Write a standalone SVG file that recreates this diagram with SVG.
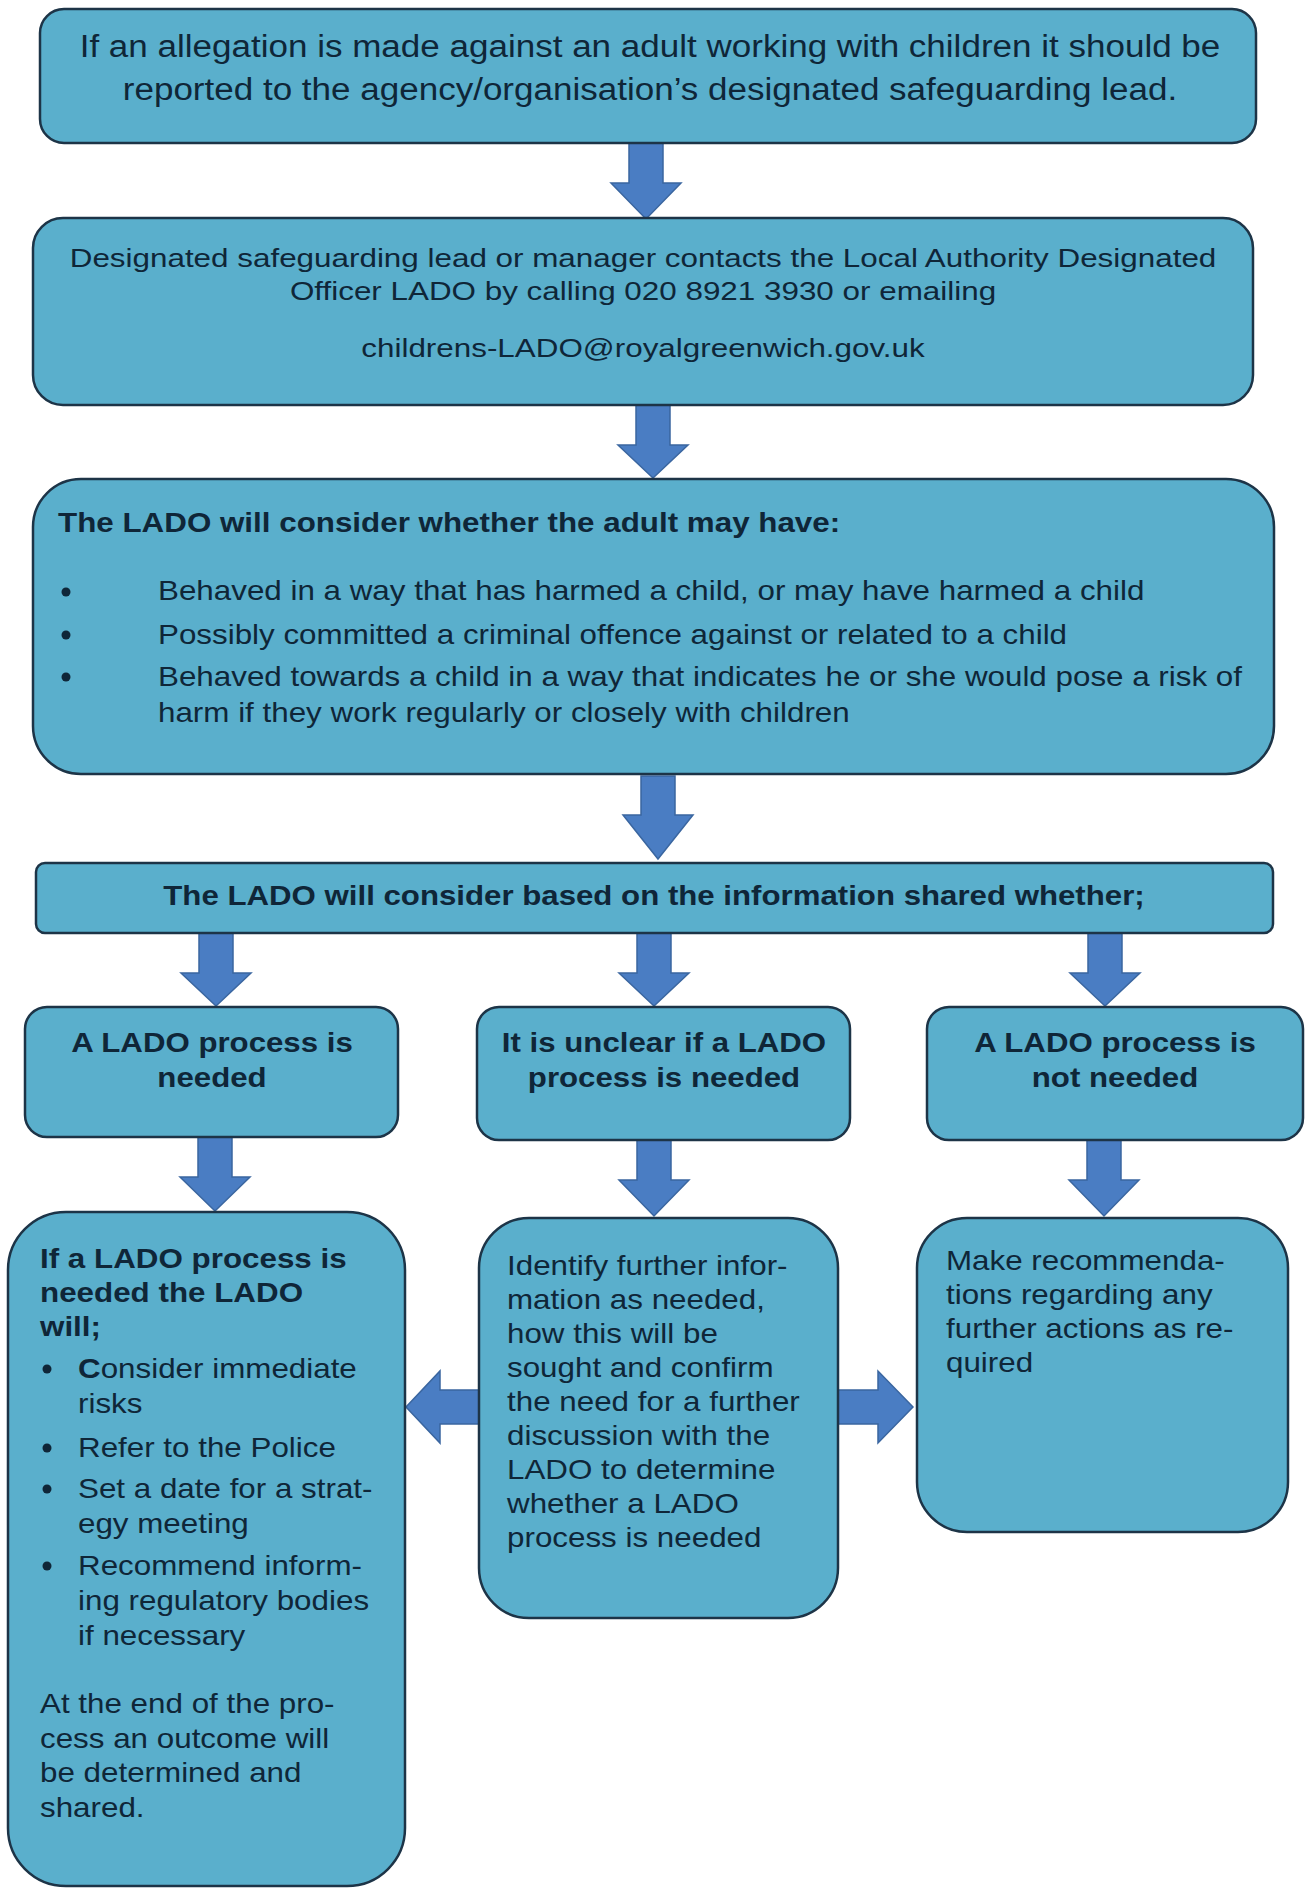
<svg xmlns="http://www.w3.org/2000/svg" width="1308" height="1888" viewBox="0 0 1308 1888">
<style>
.box{fill:#5AAFCC;stroke:#1D3447;stroke-width:2.5}
.arr{fill:#4A7DC3;stroke:#3A66A0;stroke-width:1.5}
text{font-family:"Liberation Sans",Arial,sans-serif;fill:#0F2638;font-size:28px}
.b{font-weight:bold}
.c{text-anchor:middle}
.dot{fill:#0F2638}
</style>
<rect width="1308" height="1888" fill="#ffffff"/>
<g id="connectors">
<path class="arr" d="M629 143 L663 143 L663 183 L681 183 L646 219 L611 183 L629 183 Z"/>
<path class="arr" d="M636 405 L670 405 L670 445 L688 445 L653 478 L618 445 L636 445 Z"/>
<path class="arr" d="M641 776 L675 776 L675 815 L693 815 L658 859 L623 815 L641 815 Z"/>
<path class="arr" d="M199 933 L233 933 L233 973 L251 973 L216 1006 L181 973 L199 973 Z"/>
<path class="arr" d="M637 933 L671 933 L671 973 L689 973 L654 1006 L619 973 L637 973 Z"/>
<path class="arr" d="M1088 933 L1122 933 L1122 973 L1140 973 L1105 1006 L1070 973 L1088 973 Z"/>
<path class="arr" d="M198 1137 L232 1137 L232 1177 L250 1177 L215 1211 L180 1177 L198 1177 Z"/>
<path class="arr" d="M637 1140 L671 1140 L671 1180 L689 1180 L654 1216 L619 1180 L637 1180 Z"/>
<path class="arr" d="M1087 1140 L1121 1140 L1121 1180 L1139 1180 L1104 1216 L1069 1180 L1087 1180 Z"/>
<path class="arr" d="M479 1390 L440 1390 L440 1371 L406 1407 L440 1443 L440 1424 L479 1424 Z"/>
<path class="arr" d="M838 1390 L878 1390 L878 1371 L913 1407 L878 1443 L878 1424 L838 1424 Z"/>
</g>
<g id="n1">
<rect class="box" x="40" y="9" width="1216" height="134" rx="24"/>
<g transform="matrix(1.13 0 0 1 650 0)">
<text class="c" x="0" y="57" style="font-size:31px">If an allegation is made against an adult working with children it should be</text>
<text class="c" x="0" y="100" style="font-size:31px">reported to the agency/organisation’s designated safeguarding lead.</text>
</g>
</g>
<g id="n2">
<rect class="box" x="33" y="218" width="1220" height="187" rx="30"/>
<g transform="matrix(1.256 0 0 1 643 0)">
<text class="c" x="0" y="267" style="font-size:25px">Designated safeguarding lead or manager contacts the Local Authority Designated</text>
<text class="c" x="0" y="300" style="font-size:25px">Officer LADO by calling 020 8921 3930 or emailing</text>
<text class="c" x="0" y="357" style="font-size:25px">childrens-LADO@royalgreenwich.gov.uk</text>
</g>
</g>
<g id="n3">
<rect class="box" x="33" y="479" width="1241" height="295" rx="48"/>
<circle class="dot" cx="66" cy="592" r="4.5"/>
<circle class="dot" cx="66" cy="635" r="4.5"/>
<circle class="dot" cx="66" cy="677" r="4.5"/>
<g transform="matrix(1.12 0 0 1 58 0)">
<text class="b" x="0" y="532">The LADO will consider whether the adult may have:</text>
</g>
<g transform="matrix(1.12 0 0 1 158 0)">
<text x="0" y="600">Behaved in a way that has harmed a child, or may have harmed a child</text>
<text x="0" y="644">Possibly committed a criminal offence against or related to a child</text>
<text x="0" y="686">Behaved towards a child in a way that indicates he or she would pose a risk of</text>
<text x="0" y="722">harm if they work regularly or closely with children</text>
</g>
</g>
<g id="n4">
<rect class="box" x="36" y="863" width="1237" height="70" rx="9"/>
<g transform="matrix(1.115 0 0 1 654 0)">
<text class="b c" x="0" y="905">The LADO will consider based on the information shared whether;</text>
</g>
</g>
<g id="n5">
<rect class="box" x="25" y="1007" width="373" height="130" rx="22"/>
<g transform="matrix(1.115 0 0 1 212 0)">
<text class="b c" x="0" y="1052">A LADO process is</text>
<text class="b c" x="0" y="1087">needed</text>
</g>
</g>
<g id="n6">
<rect class="box" x="477" y="1007" width="373" height="133" rx="22"/>
<g transform="matrix(1.115 0 0 1 664 0)">
<text class="b c" x="0" y="1052">It is unclear if a LADO</text>
<text class="b c" x="0" y="1087">process is needed</text>
</g>
</g>
<g id="n7">
<rect class="box" x="927" y="1007" width="376" height="133" rx="22"/>
<g transform="matrix(1.115 0 0 1 1115 0)">
<text class="b c" x="0" y="1052">A LADO process is</text>
<text class="b c" x="0" y="1087">not needed</text>
</g>
</g>
<g id="n8">
<rect class="box" x="8" y="1212" width="397" height="674" rx="58"/>
<circle class="dot" cx="47" cy="1369" r="4.5"/>
<circle class="dot" cx="47" cy="1448" r="4.5"/>
<circle class="dot" cx="47" cy="1489" r="4.5"/>
<circle class="dot" cx="47" cy="1566" r="4.5"/>
<g transform="matrix(1.12 0 0 1 40 0)">
<text class="b" x="0" y="1268">If a LADO process is</text>
<text class="b" x="0" y="1302">needed the LADO</text>
<text class="b" x="0" y="1336">will;</text>
<text x="0" y="1713">At the end of the pro-</text>
<text x="0" y="1748">cess an outcome will</text>
<text x="0" y="1782">be determined and</text>
<text x="0" y="1817">shared.</text>
</g>
<g transform="matrix(1.12 0 0 1 78 0)">
<text x="0" y="1378"><tspan class="b">C</tspan>onsider immediate</text>
<text x="0" y="1413">risks</text>
<text x="0" y="1457">Refer to the Police</text>
<text x="0" y="1498">Set a date for a strat-</text>
<text x="0" y="1533">egy meeting</text>
<text x="0" y="1575">Recommend inform-</text>
<text x="0" y="1610">ing regulatory bodies</text>
<text x="0" y="1645">if necessary</text>
</g>
</g>
<g id="n9">
<rect class="box" x="479" y="1218" width="359" height="400" rx="50"/>
<g transform="matrix(1.12 0 0 1 507 0)">
<text x="0" y="1275">Identify further infor-</text>
<text x="0" y="1309">mation as needed,</text>
<text x="0" y="1343">how this will be</text>
<text x="0" y="1377">sought and confirm</text>
<text x="0" y="1411">the need for a further</text>
<text x="0" y="1445">discussion with the</text>
<text x="0" y="1479">LADO to determine</text>
<text x="0" y="1513">whether a LADO</text>
<text x="0" y="1547">process is needed</text>
</g>
</g>
<g id="n10">
<rect class="box" x="917" y="1218" width="371" height="314" rx="50"/>
<g transform="matrix(1.12 0 0 1 946 0)">
<text x="0" y="1270">Make recommenda-</text>
<text x="0" y="1304">tions regarding any</text>
<text x="0" y="1338">further actions as re-</text>
<text x="0" y="1372">quired</text>
</g>
</g>
</svg>
